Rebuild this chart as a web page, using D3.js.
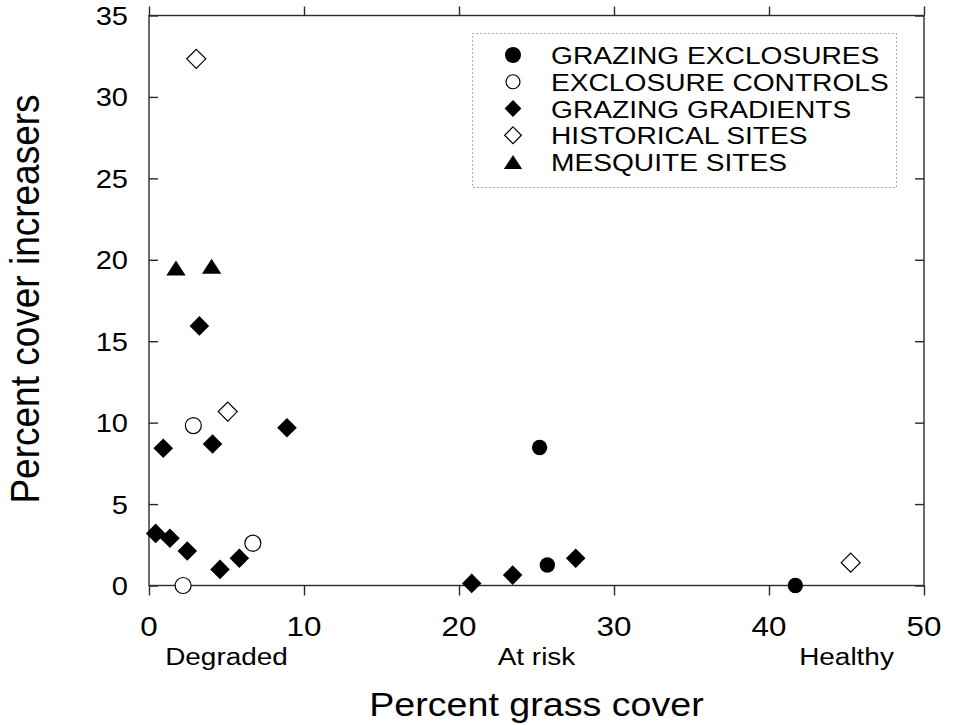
<!DOCTYPE html>
<html>
<head>
<meta charset="utf-8">
<script src="https://cdn.jsdelivr.net/npm/d3@7/dist/d3.min.js"></script>
<style>
  html, body { margin: 0; padding: 0; background: #fff; }
  svg { display: block; font-family: "Liberation Sans", Arial, Helvetica, sans-serif; }
</style>
</head>
<body>
<svg id="chart" width="953" height="725"></svg>
<script>
// Site measurements: [percent grass cover, percent cover of increasers]
const grazingExclosures = [[25.2, 8.47], [25.7, 1.26], [41.7, 0.0]];
const exclosureControls = [[2.86, 9.82], [2.2, 0.0], [6.7, 2.6]];
const grazingGradients = [
  [3.25, 15.94], [8.9, 9.69], [4.1, 8.69], [0.92, 8.43],
  [0.43, 3.2], [1.35, 2.9], [2.47, 2.12], [4.58, 0.99], [5.83, 1.67],
  [20.82, 0.13], [23.46, 0.64], [27.53, 1.67]
];
const historicalSites = [[3.05, 32.34], [5.08, 10.68], [45.27, 1.4]];
const mesquiteSites = [[1.74, 19.5], [4.04, 19.6]];

const xTicks = [0, 10, 20, 30, 40, 50];
const yTicks = [0, 5, 10, 15, 20, 25, 30, 35];
const conditionLabels = ["Degraded", "At risk", "Healthy"];
const conditionPositions = [5, 25, 45];
const legendLabels = ["GRAZING EXCLOSURES", "EXCLOSURE CONTROLS", "GRAZING GRADIENTS", "HISTORICAL SITES", "MESQUITE SITES"];

const svg = d3.select("#chart");
const plotLeft = 149, plotRight = 924, plotTop = 15.5, plotBottom = 585.5;
const x = d3.scaleLinear().domain([0, 50]).range([plotLeft, plotRight]);
const y = d3.scaleLinear().domain([0, 35]).range([plotBottom, plotTop]);
const stretch = 1.14; // text is set slightly wide

// Triangle centred on its bounding box
const boxTriangle = {
  draw(ctx, size) {
    const w = Math.sqrt(size) * 1.42, h = w * 0.78;
    ctx.moveTo(0, -h / 2);
    ctx.lineTo(w / 2, h / 2);
    ctx.lineTo(-w / 2, h / 2);
    ctx.closePath();
  }
};
// Square turned 45 degrees
const diamond45 = {
  draw(ctx, size) {
    const r = Math.sqrt(size) / Math.SQRT2;
    ctx.moveTo(0, -r);
    ctx.lineTo(r, 0);
    ctx.lineTo(0, r);
    ctx.lineTo(-r, 0);
    ctx.closePath();
  }
};

const styles = [
  { data: grazingExclosures, type: d3.symbolCircle, size: Math.PI * 7.7 * 7.7, lsize: Math.PI * 8 * 8, fill: "#000", stroke: "none" },
  { data: exclosureControls, type: d3.symbolCircle, size: Math.PI * 8 * 8, lsize: Math.PI * 7 * 7, fill: "#fff", stroke: "#000" },
  { data: grazingGradients, type: diamond45, size: 2 * 9.8 * 9.8, lsize: 2 * 8.4 * 8.4, fill: "#000", stroke: "none" },
  { data: historicalSites, type: diamond45, size: 2 * 9.5 * 9.5, lsize: 2 * 8.4 * 8.4, fill: "#fff", stroke: "#000" },
  { data: mesquiteSites, type: boxTriangle, size: 185, lsize: 165, fill: "#000", stroke: "none" }
];

// Axis frame
const axisColor = "#2a2a2a";
const frame = svg.append("g").attr("stroke", axisColor).attr("stroke-width", 1.4).attr("fill", "none");
frame.append("rect").attr("x", plotLeft).attr("y", plotTop)
  .attr("width", plotRight - plotLeft).attr("height", plotBottom - plotTop);

// Bottom and top ticks point outward, left and right ticks point inward
const bottomAxis = svg.append("g").attr("transform", `translate(0,${plotBottom})`)
  .call(d3.axisBottom(x).tickValues(xTicks).tickSize(10).tickSizeOuter(0).tickFormat(""));
const topAxis = svg.append("g").attr("transform", `translate(0,${plotTop})`)
  .call(d3.axisTop(x).tickValues(xTicks).tickSize(9).tickSizeOuter(0).tickFormat(""));
const leftAxis = svg.append("g").attr("transform", `translate(${plotLeft},0)`)
  .call(d3.axisLeft(y).tickValues(yTicks).tickSize(-9).tickSizeOuter(0).tickFormat(""));
const rightAxis = svg.append("g").attr("transform", `translate(${plotRight},0)`)
  .call(d3.axisRight(y).tickValues(yTicks).tickSize(-9).tickSizeOuter(0).tickFormat(""));
[bottomAxis, topAxis, leftAxis, rightAxis].forEach(a => {
  a.select(".domain").remove();
  a.selectAll(".tick line").attr("stroke", axisColor).attr("stroke-width", 1.4);
});

function wideText(g, px, py, str, size, anchor) {
  return g.append("text")
    .attr("transform", `translate(${px},${py}) scale(${stretch},1)`)
    .attr("text-anchor", anchor)
    .attr("font-size", size)
    .attr("fill", "#000")
    .text(str);
}

// Tick labels
const labels = svg.append("g");
yTicks.forEach(v => wideText(labels, 128, y(v) + 9.5, String(v), 25.5, "end"));
xTicks.forEach(v => wideText(labels, x(v), 636, String(v), 27.5, "middle"));
conditionLabels.forEach((t, i) => wideText(labels, x(conditionPositions[i]), 665, t, 24.5, "middle"));

// Axis titles
wideText(labels, x(25), 716, "Percent grass cover", 33, "middle");
labels.append("text")
  .attr("transform", "translate(39,299) scale(1.08,1) rotate(-90)")
  .attr("text-anchor", "middle")
  .attr("font-size", 37)
  .text("Percent cover increasers");

// Data points
const marks = svg.append("g");
styles.forEach(s => {
  marks.selectAll(null).data(s.data).join("path")
    .attr("transform", d => `translate(${x(d[0])},${y(d[1])})`)
    .attr("d", d3.symbol(s.type, s.size))
    .attr("fill", s.fill)
    .attr("stroke", s.stroke)
    .attr("stroke-width", 1.2);
});

// Legend
const legend = svg.append("g");
legend.append("rect")
  .attr("x", 472.5).attr("y", 33.5).attr("width", 424).attr("height", 154)
  .attr("fill", "none").attr("stroke", "#777").attr("stroke-width", 1)
  .attr("stroke-dasharray", "1.2,2.8");
const rowY = d3.scalePoint().domain(legendLabels).range([55, 162]);
legendLabels.forEach((t, i) => {
  const s = styles[i];
  legend.append("path")
    .attr("transform", `translate(513,${rowY(t)})`)
    .attr("d", d3.symbol(s.type, s.lsize))
    .attr("fill", s.fill).attr("stroke", s.stroke).attr("stroke-width", 1.2);
  wideText(legend, 551, rowY(t) + 9, t, 24.7, "start");
});
</script>
</body>
</html>
